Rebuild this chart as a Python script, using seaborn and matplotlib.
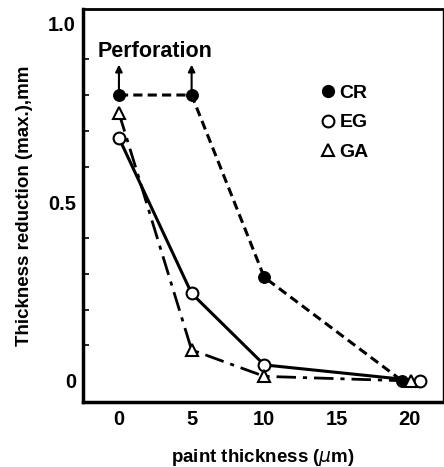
import matplotlib
matplotlib.use("Agg")
import matplotlib.pyplot as plt
import seaborn as sns
from matplotlib.lines import Line2D
from matplotlib.ticker import MultipleLocator, FixedLocator

# Data
cr_x = [0, 5, 10, 19.5]
cr_y = [0.80, 0.80, 0.29, 0.0]
eg_x = [0, 5, 10, 20.7]
eg_y = [0.68, 0.245, 0.045, 0.0]
ga_x = [0, 5, 10, 20.1]
ga_y = [0.75, 0.087, 0.013, 0.0]
series_names = ["CR", "EG", "GA"]
x_ticks = [0, 5, 10, 15, 20]
y_ticks = [0, 0.5, 1.0]
y_ticklabels = ["0", "0.5", "1.0"]

sns.set_theme(style="white")
plt.rcParams["font.family"] = ["Liberation Sans", "DejaVu Sans"]
for k in ["text.color", "axes.labelcolor", "xtick.color", "ytick.color", "axes.edgecolor"]:
    plt.rcParams[k] = "black"

fig = plt.figure(figsize=(4.44, 4.67), dpi=100)
ax = fig.add_axes([0.187, 0.139, 0.811, 0.842])

ms = 8.5
sns.lineplot(x=cr_x, y=cr_y, ax=ax, color="black", lw=2.2, marker="o",
             markersize=ms, markerfacecolor="black", markeredgecolor="black",
             linestyle=(0, (3.0, 1.7)), sort=False, legend=False)
sns.lineplot(x=eg_x, y=eg_y, ax=ax, color="black", lw=2.2, marker="o",
             markersize=ms, markerfacecolor="white", markeredgecolor="black",
             markeredgewidth=1.5, sort=False, legend=False)
sns.lineplot(x=ga_x, y=ga_y, ax=ax, color="black", lw=2.0, marker="^",
             markersize=ms, markerfacecolor="white", markeredgecolor="black",
             markeredgewidth=1.5, linestyle=(0, (7, 2.5, 1.5, 2.5)), sort=False, legend=False)

ax.set_xlim(-2.47, 22.3)
ax.set_ylim(-0.059, 1.041)

# arrows for perforation
for xv in [cr_x[0], cr_x[1]]:
    ax.annotate("", xy=(xv, 0.885), xytext=(xv, 0.805),
                arrowprops=dict(arrowstyle="-|>", color="black", lw=1.5,
                                mutation_scale=10, shrinkA=0, shrinkB=0))
ax.text(2.47, 0.921, "Perforation", ha="center", va="center",
        fontsize=15.5, fontweight="bold")

# legend
handles = [
    Line2D([], [], linestyle="none", marker="o", markersize=ms, color="black",
           markerfacecolor="black"),
    Line2D([], [], linestyle="none", marker="o", markersize=ms, color="black",
           markerfacecolor="white", markeredgewidth=1.5),
    Line2D([], [], linestyle="none", marker="^", markersize=ms, color="black",
           markerfacecolor="white", markeredgewidth=1.5),
]
leg = ax.legend(handles, series_names, loc="upper left", bbox_to_anchor=(0.615, 0.852),
                frameon=False, handlelength=0.6, handletextpad=0.3, labelspacing=0.6,
                prop=dict(size=14, weight="bold"))

ax.xaxis.set_major_locator(FixedLocator(x_ticks))
ax.set_xticklabels([str(t) for t in x_ticks])
ax.yaxis.set_major_locator(FixedLocator(y_ticks))
ax.set_yticklabels(y_ticklabels)
ax.yaxis.set_minor_locator(MultipleLocator(0.1))

ax.tick_params(axis="both", which="both", direction="in", color="black")
ax.tick_params(axis="y", which="major", length=8, width=1.5, pad=5)
ax.tick_params(axis="y", which="minor", length=4, width=1.2, left=True)
ax.tick_params(axis="x", which="major", length=5, width=1.5, pad=6)
for lab in ax.get_xticklabels() + ax.get_yticklabels():
    lab.set_fontweight("bold")
    lab.set_fontsize(14.5)

for side, w in [("left", 2.5), ("bottom", 2.5), ("top", 2.0), ("right", 1.0)]:
    ax.spines[side].set_visible(True)
    ax.spines[side].set_color("black")
    ax.spines[side].set_linewidth(w)

ax.set_xlabel("paint thickness ($\\mu$m)", fontsize=13.5, fontweight="bold")
ax.xaxis.set_label_coords(0.5, -0.113)
ax.set_ylabel("Thickness reduction (max.),mm", fontsize=13.5, fontweight="bold")
ax.yaxis.set_label_coords(-0.139, 0.5)

fig.savefig("out.png", dpi=100, facecolor="white")
